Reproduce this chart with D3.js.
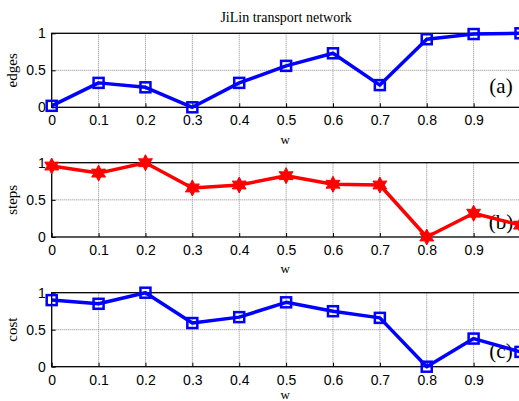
<!DOCTYPE html>
<html>
<head>
<meta charset="utf-8">
<script src="https://cdn.jsdelivr.net/npm/d3@7"></script>
<style>
  html, body { margin: 0; padding: 0; background: #fff; overflow: hidden; }
  svg { display: block; }
</style>
</head>
<body>
<svg id="chart" width="519" height="401"></svg>
<script>
// weight parameter w on the x axis
const wValues = [0, 0.1, 0.2, 0.3, 0.4, 0.5, 0.6, 0.7, 0.8, 0.9, 1.0];
const xTicks = [0, 0.1, 0.2, 0.3, 0.4, 0.5, 0.6, 0.7, 0.8, 0.9];
const yTicks = [0, 0.5, 1];

// normalised measures per w
const edges = [0.02, 0.33, 0.27, 0.0, 0.33, 0.56, 0.73, 0.30, 0.92, 0.99, 1.0];
const steps = [0.955, 0.86, 1.0, 0.66, 0.70, 0.825, 0.71, 0.70, 0.0, 0.32, 0.16];
const cost  = [0.90, 0.85, 1.0, 0.59, 0.67, 0.87, 0.75, 0.66, 0.0, 0.38, 0.20];

const titleText = "JiLin transport network";

const panels = [
  { name: "edges", values: edges, color: "#0000ff", marker: "square", tag: "(a)", top: 33.3, bottom: 107.3, tagY: 93, wY: 144 },
  { name: "steps", values: steps, color: "#ff0000", marker: "star",   tag: "(b)", top: 162.7, bottom: 237, tagY: 229, wY: 273 },
  { name: "cost",  values: cost,  color: "#0000ff", marker: "square", tag: "(c)", top: 292.7, bottom: 366.7, tagY: 358, wY: 399 }
];

const svg = d3.select("#chart");
const left = 51.7, right = 520.5;
const x = d3.scaleLinear().domain([0, 1]).range([left, right]);

svg.append("text")
  .attr("x", (left + right) / 2)
  .attr("y", 22)
  .attr("text-anchor", "middle")
  .attr("font-family", "Liberation Serif, Times New Roman, serif")
  .attr("font-size", 14)
  .text(titleText);

// six-pointed star path centred on the origin
function starPath(r) {
  const pts = [];
  for (let i = 0; i < 12; i++) {
    const a = -Math.PI / 2 + i * Math.PI / 6;
    const rr = i % 2 === 0 ? r : r * 0.55;
    pts.push([rr * Math.cos(a), rr * Math.sin(a)]);
  }
  return d3.line()(pts) + "Z";
}

panels.forEach(p => {
  const y = d3.scaleLinear().domain([0, 1]).range([p.bottom, p.top]);
  const g = svg.append("g");

  // grid
  const gridX = xTicks.slice(1).concat([1]);
  g.selectAll(".gx").data(gridX).enter().append("line")
    .attr("x1", d => x(d)).attr("x2", d => x(d))
    .attr("y1", p.top).attr("y2", p.bottom)
    .attr("stroke", "#8a8a8a").attr("stroke-width", 1).attr("stroke-dasharray", "1,1");
  g.selectAll(".gy").data([0.5]).enter().append("line")
    .attr("x1", left).attr("x2", right)
    .attr("y1", d => y(d)).attr("y2", d => y(d))
    .attr("stroke", "#8a8a8a").attr("stroke-width", 1).attr("stroke-dasharray", "1,1");

  // axes box
  g.append("rect")
    .attr("x", left).attr("y", p.top)
    .attr("width", right - left).attr("height", p.bottom - p.top)
    .attr("fill", "none").attr("stroke", "#000").attr("stroke-width", 1.3);

  // x axis (ticks inward)
  const xAxis = d3.axisBottom(x).tickValues(xTicks).tickSize(-4).tickPadding(8)
    .tickFormat(d => d === 0 ? "0" : d3.format(".1f")(d));
  const xa = g.append("g").attr("transform", `translate(0,${p.bottom})`).call(xAxis);
  xa.select(".domain").remove();
  xa.selectAll("line").attr("stroke", "#000");
  xa.selectAll("text").attr("font-family", "Liberation Sans, Arial, sans-serif")
    .attr("font-size", 14).attr("fill", "#000");

  // y axis (ticks inward)
  const yAxis = d3.axisLeft(y).tickValues(yTicks).tickSize(-4).tickPadding(6)
    .tickFormat(d => d === 0.5 ? "0.5" : String(d));
  const ya = g.append("g").attr("transform", `translate(${left},0)`).call(yAxis);
  ya.select(".domain").remove();
  ya.selectAll("line").attr("stroke", "#000");
  ya.selectAll("text").attr("font-family", "Liberation Sans, Arial, sans-serif")
    .attr("font-size", 14).attr("fill", "#000");

  // axis labels
  g.append("text")
    .attr("x", (left + right) / 2 - 1)
    .attr("y", p.wY)
    .attr("text-anchor", "middle")
    .attr("font-family", "Liberation Serif, Times New Roman, serif")
    .attr("font-size", 13)
    .text("w");
  g.append("text")
    .attr("transform", `translate(17,${(p.top + p.bottom) / 2}) rotate(-90)`)
    .attr("text-anchor", "middle")
    .attr("font-family", "Liberation Serif, Times New Roman, serif")
    .attr("font-size", 15)
    .text(p.name);

  // panel tag
  g.append("text")
    .attr("x", 501).attr("y", p.tagY)
    .attr("text-anchor", "middle")
    .attr("font-family", "Liberation Serif, Times New Roman, serif")
    .attr("font-size", 21)
    .text(p.tag);

  // series line
  const line = d3.line().x((d, i) => x(wValues[i])).y(d => y(d));
  g.append("path").datum(p.values)
    .attr("d", line)
    .attr("fill", "none").attr("stroke", p.color)
    .attr("stroke-width", 3.5).attr("stroke-linejoin", "round");

  // markers
  const m = g.selectAll(".mk").data(p.values).enter();
  if (p.marker === "square") {
    m.append("rect")
      .attr("x", (d, i) => x(wValues[i]) - 5).attr("y", d => y(d) - 5)
      .attr("width", 10).attr("height", 10)
      .attr("fill", "none").attr("stroke", p.color).attr("stroke-width", 2.5);
  } else {
    m.append("path")
      .attr("transform", (d, i) => `translate(${x(wValues[i])},${y(d)})`)
      .attr("d", starPath(8))
      .attr("fill", p.color).attr("stroke", p.color).attr("stroke-width", 1);
  }
});
</script>
</body>
</html>
